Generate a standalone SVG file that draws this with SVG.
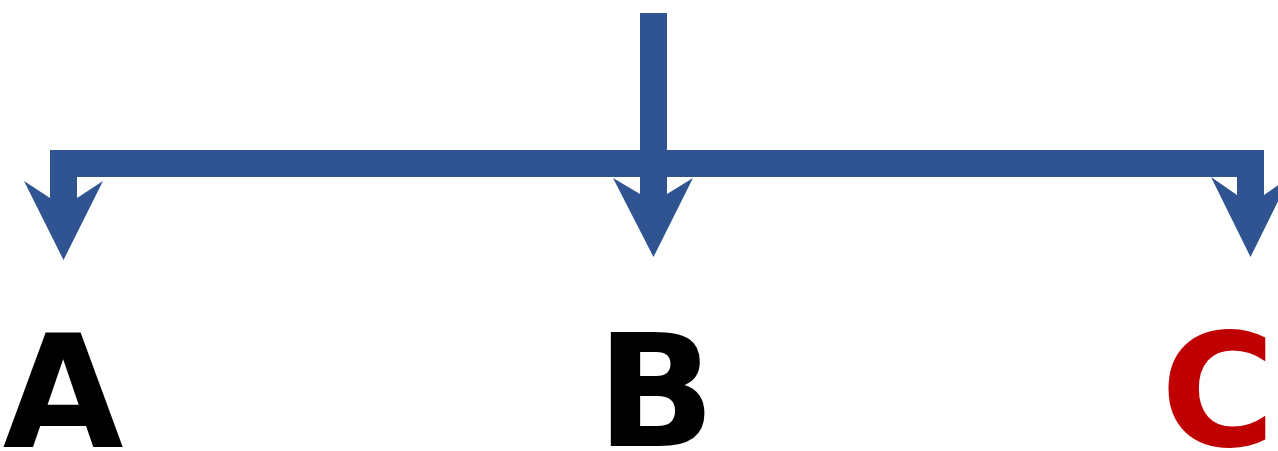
<svg xmlns="http://www.w3.org/2000/svg" width="1278" height="451" viewBox="0 0 1278 451">
<style>
.ln{fill:none;stroke:#2F5491;stroke-width:27;stroke-linejoin:miter;stroke-linecap:butt}
.hd{fill:#2F5491}
.lbl{font-family:"DejaVu Sans",sans-serif;font-weight:bold;font-size:156px}
</style>
<rect width="1278" height="451" fill="#fff"/>
<g id="connectors">
<path class="ln" d="M63.5,199 V163.5 H1250.5 V199"/>
<path class="ln" d="M653.5,13 V199"/>
<polygon class="hd" points="24,181 50,198 77,198 103,181 63.5,260"/>
<polygon class="hd" points="613,178 640,194 667,194 693,178 653.5,257"/>
<polygon class="hd" points="1211,177 1237,195 1264,195 1290,177 1250.5,257"/>
</g>
<g id="nodeA"><text class="lbl" x="63" y="447" text-anchor="middle" fill="#000">A</text></g>
<g id="nodeB"><text class="lbl" x="656" y="446" text-anchor="middle" fill="#000">B</text></g>
<g id="nodeC"><text class="lbl" x="1218" y="446" text-anchor="middle" fill="#C00000">C</text></g>
</svg>
